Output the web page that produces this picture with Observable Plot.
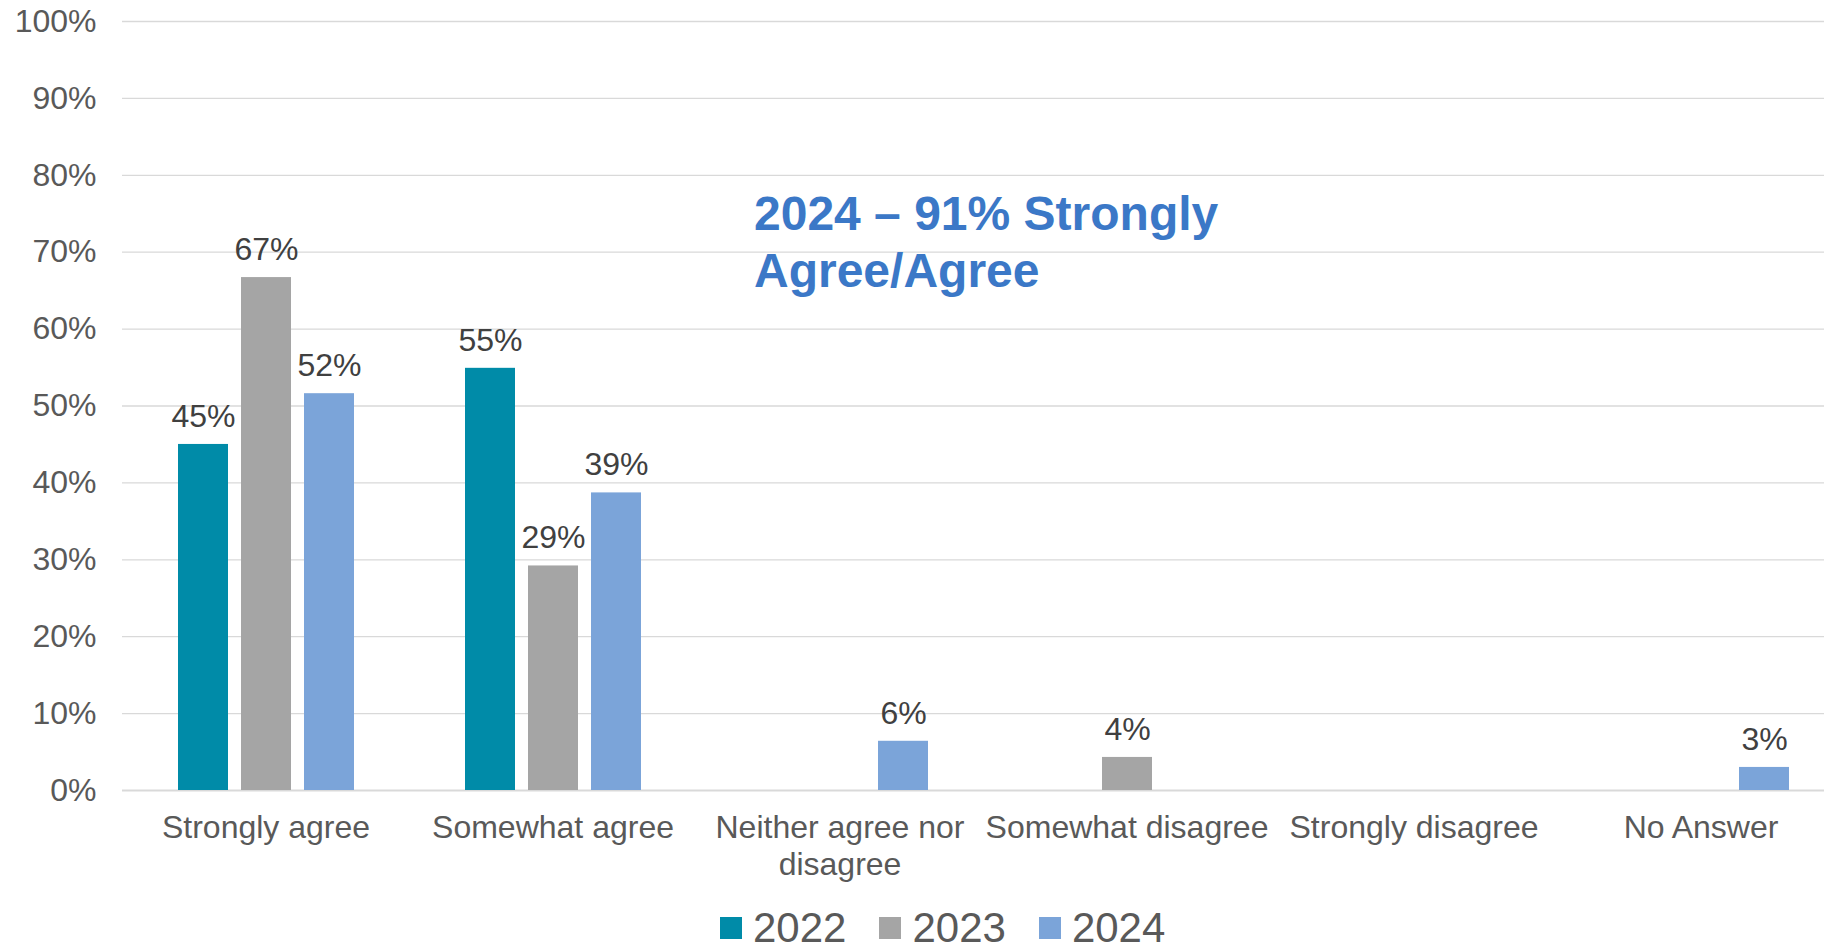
<!DOCTYPE html>
<html>
<head>
<meta charset="utf-8">
<script src="https://cdn.jsdelivr.net/npm/d3@7"></script>
<script src="https://cdn.jsdelivr.net/npm/@observablehq/plot@0.6"></script>
<style>
  html, body { margin: 0; padding: 0; background: #ffffff; overflow: hidden; }
  #wrap { position: relative; width: 1824px; height: 949px; font-family: "Liberation Sans", Arial, sans-serif; }
  #note { position: absolute; left: 754px; top: 185px; font-weight: bold; font-size: 48px; line-height: 57px; color: #3B78C7; white-space: nowrap; }
  #legend { position: absolute; left: 720px; top: 910px; }
  #legend .lg-swatches, #legend .lg-swatches-wrap { min-height: 0 !important; margin: 0 !important; line-height: 36px; }
  .lg-swatch { margin-right: 33px !important; line-height: 36px; }
  .lg-swatch > svg { margin-right: 11px !important; }
</style>
</head>
<body>
<div id="wrap">
  <div id="chart"></div>
  <div id="note">2024 – 91% Strongly<br>Agree/Agree</div>
  <div id="legend"></div>
</div>
<script>
const categories = ["Strongly agree", "Somewhat agree", "Neither agree nor disagree", "Somewhat disagree", "Strongly disagree", "No Answer"];
const categoryLabels = ["Strongly agree", "Somewhat agree", "Neither agree nor\ndisagree", "Somewhat disagree", "Strongly disagree", "No Answer"];
const years = ["2022", "2023", "2024"];
const values2022 = [45, 54.9, null, null, null, null];
const values2023 = [66.7, 29.2, null, 4.3, null, null];
const values2024 = [51.6, 38.7, 6.4, null, null, 3.0];
const yTicks = [0, 10, 20, 30, 40, 50, 60, 70, 80, 90, 100];
const colors = ["#008BA8", "#A5A5A5", "#7BA4D9"];

const series = [values2022, values2023, values2024];
const rows = [];
years.forEach((yr, i) => {
  categories.forEach((c, j) => {
    const v = series[i][j];
    if (v != null) rows.push({category: c, year: yr, value: v});
  });
});
const labelOf = new Map(categories.map((c, i) => [c, categoryLabels[i]]));

// grid lines, one set per category panel so that every panel is drawn
const gridRows = categories.flatMap(c => yTicks.map(t => ({category: c, tick: t})));

const hasAxisMarks = typeof Plot.axisFx === "function";

const marks = [
  Plot.ruleY(gridRows.filter(d => d.tick > 0), {fx: "category", y: "tick", stroke: "#d9d9d9", strokeWidth: 1.3}),
  Plot.ruleY(gridRows.filter(d => d.tick === 0), {fx: "category", y: "tick", stroke: "#d9d9d9", strokeWidth: 2}),
  Plot.barY(rows, {fx: "category", x: "year", y: "value", fill: "year"}),
  Plot.text(rows, {fx: "category", x: "year", y: "value", text: d => Math.round(d.value) + "%", dy: -28, fill: "#404040", fontSize: 32})
];
if (hasAxisMarks) {
  marks.push(Plot.axisFx({anchor: "bottom", tickSize: 0, tickPadding: 21, lineHeight: 1.16, fontSize: 32, fill: "#595959", label: null, tickFormat: d => labelOf.get(d)}));
}

const chart = Plot.plot({
  width: 1824,
  height: 890,
  marginLeft: 121,
  marginRight: -20,
  marginTop: 21,
  marginBottom: 100,
  style: {fontFamily: "'Liberation Sans', Arial, sans-serif", fontSize: "32px", color: "#595959", background: "#ffffff"},
  fx: {domain: categories, padding: 0, label: null, axis: hasAxisMarks ? null : "bottom", tickSize: 0, tickPadding: 21, tickFormat: d => labelOf.get(d)},
  x: {domain: years, paddingInner: 0.21, paddingOuter: 0.85, axis: null},
  y: {domain: [0, 100], ticks: yTicks, tickFormat: d => d + "%", tickSize: 0, tickPadding: 26, label: null},
  color: {domain: years, range: colors},
  marks
});
document.getElementById("chart").appendChild(chart);

const legend = Plot.legend({
  color: {domain: years, range: colors},
  legend: "swatches",
  swatchSize: 22,
  className: "lg",
  style: {fontFamily: "'Liberation Sans', Arial, sans-serif", fontSize: "42px", color: "#595959"}
});
document.getElementById("legend").appendChild(legend);
</script>
</body>
</html>
